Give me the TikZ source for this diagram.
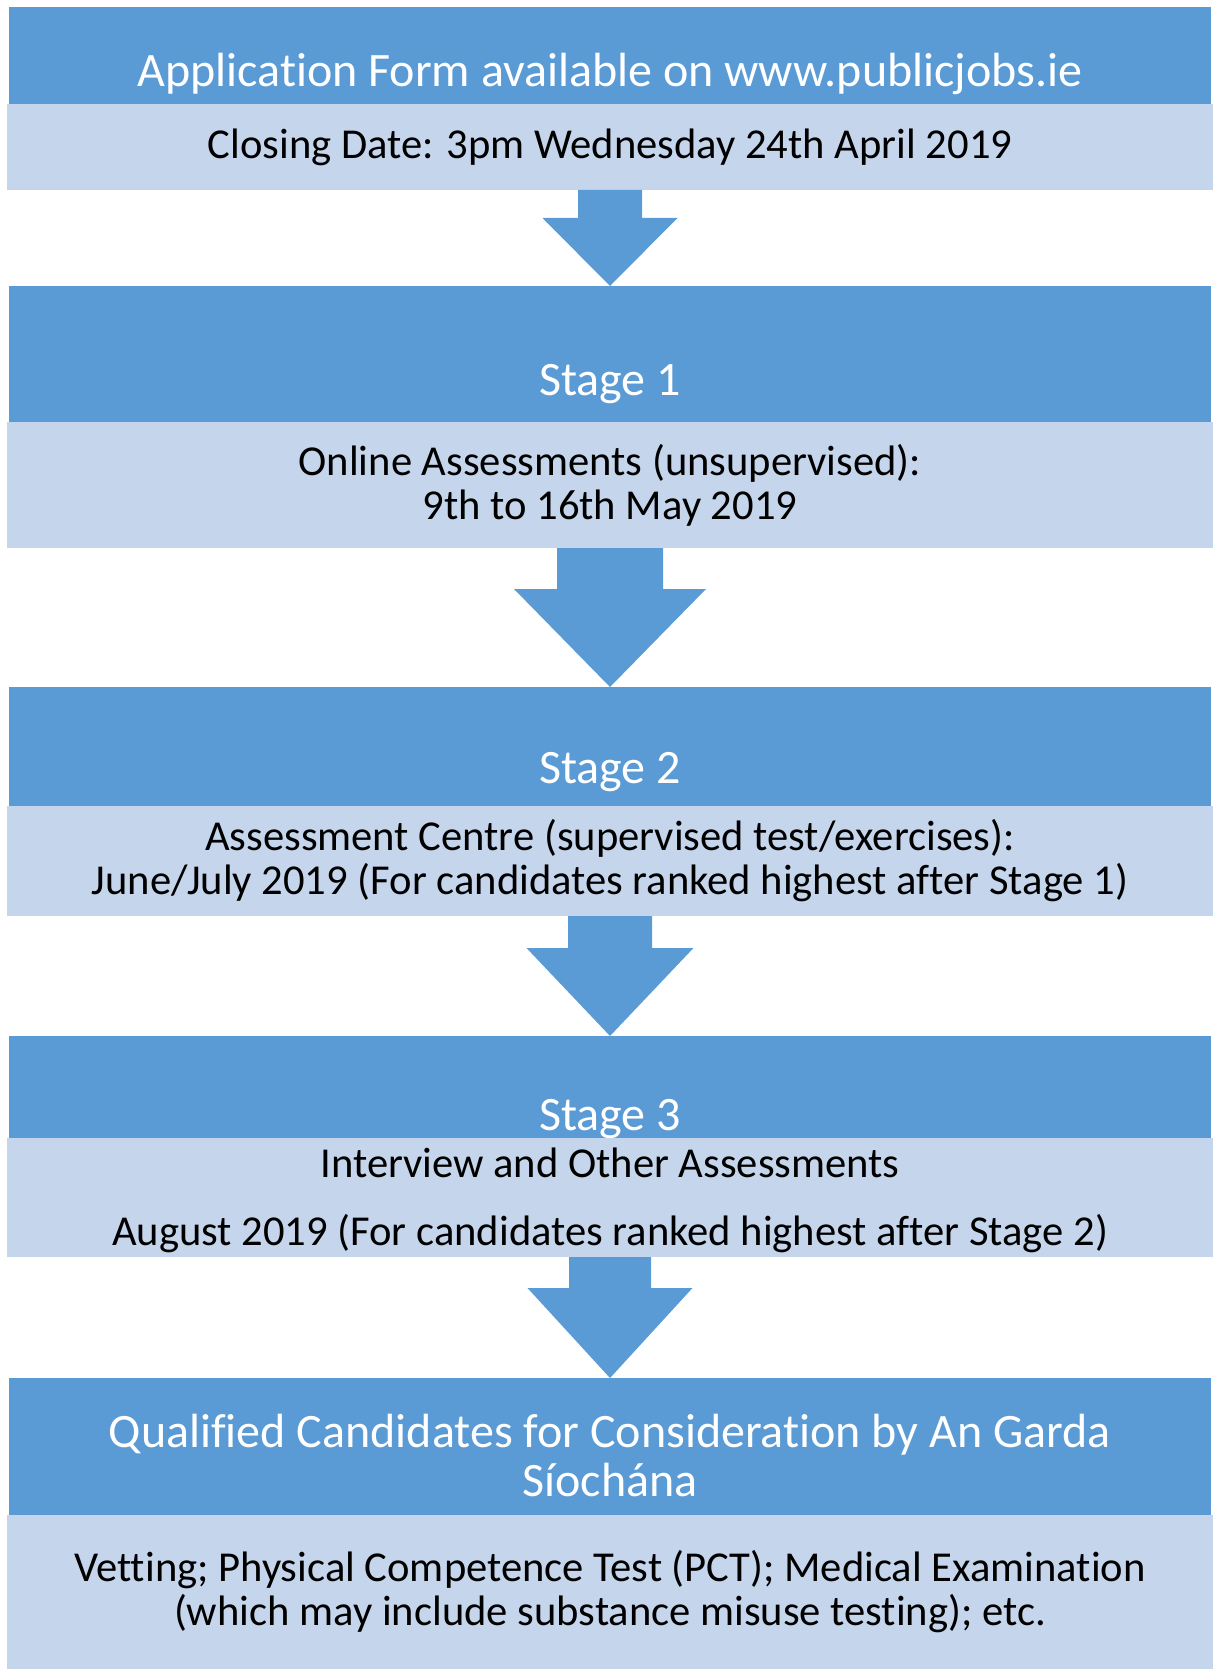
\documentclass[tikz,border=0pt]{standalone}
\usepackage{fontspec}
\setmainfont{Carlito}[Ligatures=NoCommon]
\usetikzlibrary{positioning,calc}
\definecolor{stageblue}{RGB}{91,155,213}
\definecolor{stagelight}{RGB}{197,213,235}

% block arrow: from, to, shaft half width, head half width, head start
\newcommand{\stagearrow}[5]{%
  \fill[stageblue] ($(#1.south)+(-#3,0)$) -- ($(#1.south)+(-#3,#5)$)
    -- ($(#1.south)+(-#4,#5)$) -- (#2.north) -- ($(#1.south)+(#4,#5)$)
    -- ($(#1.south)+(#3,#5)$) -- ($(#1.south)+(#3,0)$) -- cycle;}

\begin{document}
\begin{tikzpicture}[x=0.5pt,y=-0.5pt,
    node distance=0pt,
    head/.style={fill=stageblue,text=white,minimum width=601pt,inner sep=0pt,
                 outer sep=0pt,font=\fontsize{24}{24.5}\selectfont,align=center},
    info/.style={fill=stagelight,text=black,minimum width=603pt,inner sep=0pt,
                 outer sep=0pt,font=\fontsize{21.3}{22}\selectfont,align=center},
  ]
  \useasboundingbox (0,0) rectangle (1216,1669);

  \node[head,minimum height=48.5pt,text height=31.5pt,text depth=0pt] (app) at (610,55.5)
    {Application Form available on www.publicjobs.ie};
  \node[info,minimum height=43pt,below=of app] (close)
    {Closing Date: 3pm Wednesday 24th April 2019};

  \node[head,minimum height=68pt,text height=41.5pt,text depth=0pt] (s1) at (610,354) {Stage 1};
  \node[info,minimum height=63pt,below=of s1] (s1info)
    {Online Assessments (unsupervised):\\9th to 16th May 2019};

  \node[head,minimum height=59.5pt,text height=36.5pt,text depth=0pt] (s2) at (610,746.5) {Stage 2};
  \node[info,minimum height=55pt,below=of s2] (s2info)
    {Assessment Centre (supervised test/exercises):\\June/July 2019 (For candidates ranked highest after Stage 1)};

  \node[head,minimum height=51pt,text height=43.5pt,text depth=0pt] (s3) at (610,1087) {Stage 3};
  \node[info,minimum height=59.5pt,below=of s3] (s3info)
    {\rule{0pt}{18pt}Interview and Other Assessments\\[12pt]August 2019 (For candidates ranked highest after Stage 2)};

  \node[head,minimum height=68.5pt] (qual) at (610,1446.5)
    {\rule{0pt}{26pt}Qualified Candidates for Consideration by An Garda\\Síochána};
  \node[info,minimum height=77pt,below=of qual] (qualinfo)
    {Vetting; Physical Competence Test (PCT); Medical Examination\\(which may include substance misuse testing); etc.};

  \stagearrow{close}{s1}{32}{67.5}{28}
  \stagearrow{s1info}{s2}{53}{96}{41}
  \stagearrow{s2info}{s3}{42}{83.5}{32}
  \stagearrow{s3info}{qual}{41}{82.5}{31}
\end{tikzpicture}
\end{document}
